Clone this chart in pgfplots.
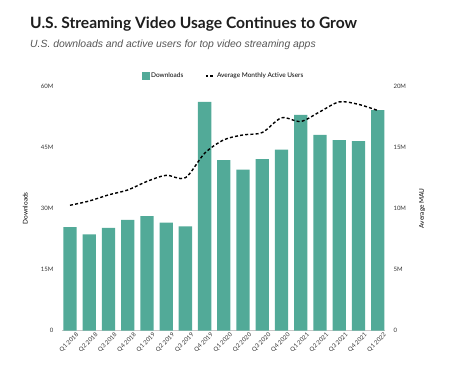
\documentclass[border=0pt]{standalone}
\usepackage{pgfplots}
\pgfplotsset{compat=1.18}
\usepackage{fontspec}
\setmainfont{Lato}
\newfontfamily\subfont{Liberation Sans}
\definecolor{barteal}{HTML}{52AA98}
\definecolor{axgray}{HTML}{C8C8C8}
\definecolor{titlec}{HTML}{1E1E1E}
\definecolor{subc}{HTML}{555555}
\definecolor{tickc}{HTML}{333333}

\pgfplotstableread{
x dl mau
0 25.4 10.25
1 23.6 10.6
2 25.2 11.1
3 27.2 11.5
4 28.1 12.2
5 26.5 12.7
6 25.6 12.5
7 56.1 14.5
8 41.8 15.6
9 39.5 16.0
10 42.1 16.2
11 44.4 17.4
12 52.9 17.1
13 48.0 17.9
14 46.7 18.7
15 46.5 18.5
16 54.1 18.0
}\data

\begin{document}
\begin{tikzpicture}
\useasboundingbox (-62pt,-51.3pt) rectangle (392pt,330.7pt);
\node[anchor=base west,font=\fontsize{15.6}{17}\selectfont\bfseries,text=titlec,inner sep=0pt] at (-32pt,302pt) {U.S. Streaming Video Usage Continues to Grow};
\node[anchor=base west,font=\subfont\itshape\fontsize{10.4}{12}\selectfont,text=subc,inner sep=0pt] at (-32pt,283pt) {U.S. downloads and active users for top video streaming apps};
\begin{axis}[
  at={(0pt,0pt)}, anchor=south west,
  scale only axis, width=323pt, height=244.7pt,
  xmin=-0.416, xmax=16.38,
  ymin=0, ymax=60,
  axis y line*=left,
  axis x line*=bottom,
  y axis line style={draw=none},
  x axis line style={draw=axgray, line width=0.8pt, -},
  major tick length=0pt,
  ytick={0,15,30,45,60},
  yticklabels={0,15M,30M,45M,60M},
  xtick=data,
  xticklabels={Q1 2018,Q2 2018,Q3 2018,Q4 2018,Q1 2019,Q2 2019,Q3 2019,Q4 2019,Q1 2020,Q2 2020,Q3 2020,Q4 2020,Q1 2021,Q2 2021,Q3 2021,Q4 2021,Q1 2022},
  xticklabel style={rotate=45, anchor=north east, font=\fontsize{6}{7}\selectfont, text=tickc, inner sep=1pt, xshift=4pt, yshift=-4pt},
  yticklabel style={font=\fontsize{6}{7}\selectfont, text=tickc, xshift=-5pt},
  ylabel={Downloads},
  ylabel style={font=\fontsize{6.5}{7}\selectfont, text=black, at={(axis description cs:-0.095,0.5)}},
  /pgf/number format/assume math mode=true,
]
\addplot[ybar, bar width=13.3pt, fill=barteal, draw=none] table[x=x,y=dl] {\data};
\end{axis}
\begin{axis}[
  at={(0pt,0pt)}, anchor=south west,
  scale only axis, width=323pt, height=244.7pt,
  xmin=-0.416, xmax=16.38,
  ymin=0, ymax=20,
  axis y line*=right,
  axis x line=none,
  y axis line style={draw=none},
  major tick length=0pt,
  ytick={0,5,10,15,20},
  yticklabels={0,5M,10M,15M,20M},
  yticklabel style={font=\fontsize{6}{7}\selectfont, text=tickc, xshift=5pt},
  ylabel={Average MAU},
  ylabel style={font=\fontsize{6.5}{7}\selectfont, text=black, at={(axis description cs:1.095,0.5)}},
  /pgf/number format/assume math mode=true,
  legend columns=2,
  legend style={at={(0.5,1.041)}, anchor=center, draw=none, fill=none, font=\fontsize{6.5}{7}\selectfont, /tikz/every even column/.append style={column sep=20pt}},
  legend cell align=left,
]
\addlegendimage{legend image code/.code={\fill[barteal] (0.1cm,-0.12cm) rectangle (0.35cm,0.13cm);}}
\addlegendentry{Downloads}
\addplot[black, line width=1.4pt, dash pattern=on 3pt off 2.2pt, smooth, legend image code/.code={\draw[black, line width=1.2pt, dash pattern=on 2.5pt off 2pt] (0.05cm,0cm) -- (0.35cm,0cm);}] table[x=x,y=mau] {\data};
\addlegendentry{Average Monthly Active Users}
\end{axis}
\end{tikzpicture}
\end{document}
